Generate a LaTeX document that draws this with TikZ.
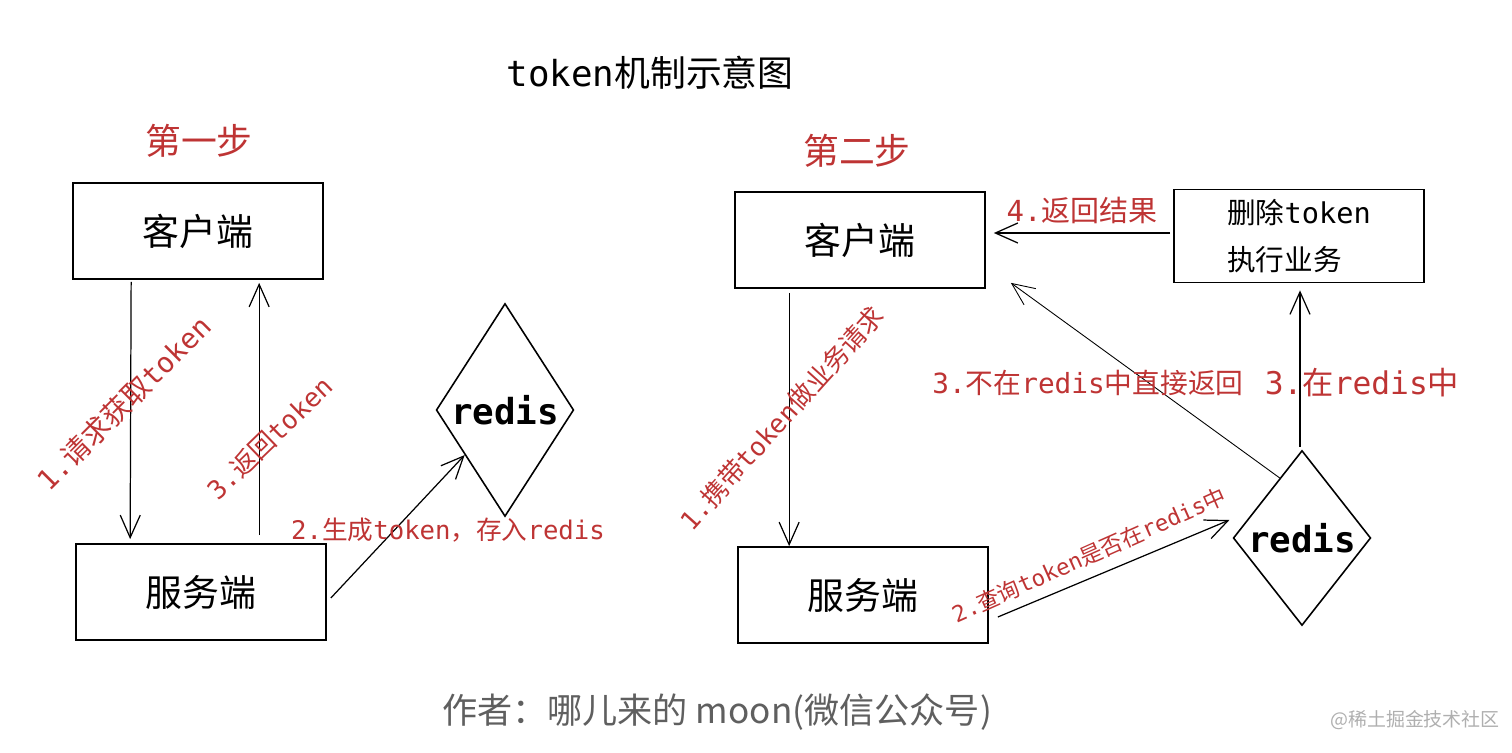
\documentclass[tikz,border=0pt]{standalone}
\usepackage{fontspec}
\setmainfont{DejaVu Sans Mono}
\newfontfamily\cjk{Noto Sans CJK SC}
\usetikzlibrary{shapes.geometric}
\usetikzlibrary{arrows.meta,calc}
\definecolor{labelred}{RGB}{190,52,52}
\definecolor{footgray}{RGB}{95,95,95}
\definecolor{markgray}{RGB}{175,175,175}
\newcommand\zh[1]{{\cjk #1}}
\newcommand\fsz[2]{\fontsize{#1}{#2}\selectfont}

\begin{document}
\begin{tikzpicture}[x=0.02cm, y=-0.02cm,
  box/.style={draw, line width=1pt, minimum width=5cm, minimum height=1.92cm, inner sep=0pt, font=\cjk\fsz{21}{25}},
  store/.style={diamond, draw, line width=0.9pt, inner sep=0pt, font=\bfseries\fsz{20.4}{24}},
  arr/.style={-{Straight Barb[length=0.45cm,width=0.4cm]}, line width=0.7pt},
  lbl/.style={text=labelred, inner sep=0pt, font=\fsz{14.6}{18}},
  stage/.style={text=labelred, font=\cjk\fsz{20.4}{24}}]
  \useasboundingbox (0,0) rectangle (1512,753);

  \node[font=\fsz{20.4}{24}] (title) at (650,73) {token\zh{机制示意图}};
  \node[stage] (first) at (199,141) {第一步};
  \node[stage] (second) at (857,151) {第二步};

  \foreach \name/\x/\y/\txt in {lclient/198/231/客户端, lserver/201/592/服务端,
    rclient/860/240/客户端, rserver/863/595/服务端}
    \node[box] (\name) at (\x,\y) {\txt};
  \node[box, minimum height=1.86cm, align=left, font=\fsz{16.3}{26.6}] (exec) at (1299,236)
    {\zh{删除}token\\\zh{执行业务}};

  \node[store, minimum width=2.72cm, minimum height=4.26cm] (lredis) at (505,410) {redis};
  \node[store, minimum width=2.70cm, minimum height=3.50cm] (rredis) at (1302,538) {redis};

  % first step
  \draw[arr] ($(lclient.south west)+(59,2)$) -- ($(lserver.north west)+(55,-4)$);
  \draw[arr] ($(lserver.north west)+(184,-8)$) -- ($(lclient.south west)+(187,3)$);
  \draw[arr] ($(lserver.east)+(4,6)$) -- ($(lredis.west)!0.42!(lredis.south)$);
  \node[lbl, rotate=45, font=\fsz{16}{19}] (ask) at (124,403) {1.\zh{请求获取}token};
  \node[lbl, rotate=44, font=\fsz{14.8}{18}] (give) at (270,438) {3.\zh{返回}token};
  \node[lbl] (make) at (448,530) {2.\zh{生成}token\zh{，存入}redis};

  % second step
  \draw[arr] ($(rclient.south west)+(55,4)$) -- ($(rserver.north west)+(52,0)$);
  \draw[arr] ($(rserver.east)+(9,22)$) -- ($(rredis.west)+(-3,-18)$);
  \draw[arr, line width=0.5pt] ($(rredis.north)!0.32!(rredis.west)$) -- ($(rclient.south east)+(25,-6)$);
  \draw[arr] ($(rredis.north)+(-2,-3)$) -- ($(exec.south)+(1,7)$);
  \draw[arr] ($(exec.west)+(-3,-3)$) -- ($(rclient.east)+(8,-7)$);
  \node[lbl, rotate=48, font=\fsz{14.7}{18}] (carry) at (782,418) {1.\zh{携带}token\zh{做业务请求}};
  \node[lbl, rotate=24, font=\fsz{12.8}{15}] (query) at (1089,555) {2.\zh{查询}token\zh{是否在}redis\zh{中}};
  \node[lbl, font=\fsz{15.8}{19}] (miss) at (1088,383) {3.\zh{不在}redis\zh{中直接返回}};
  \node[lbl, font=\fsz{17.8}{21}] (hit) at (1362,383) {3.\zh{在}redis\zh{中}};
  \node[lbl, font=\fsz{16.5}{20}] (back) at (1082,210) {4.\zh{返回结果}};

  \node[text=footgray, font=\cjk\fsz{20}{24}] (author) at (717,712) {作者：哪儿来的 moon(微信公众号)};
  \node[text=markgray, font=\cjk\fsz{10.8}{13}] (mark) at (1415,720) {@稀土掘金技术社区};
\end{tikzpicture}
\end{document}
